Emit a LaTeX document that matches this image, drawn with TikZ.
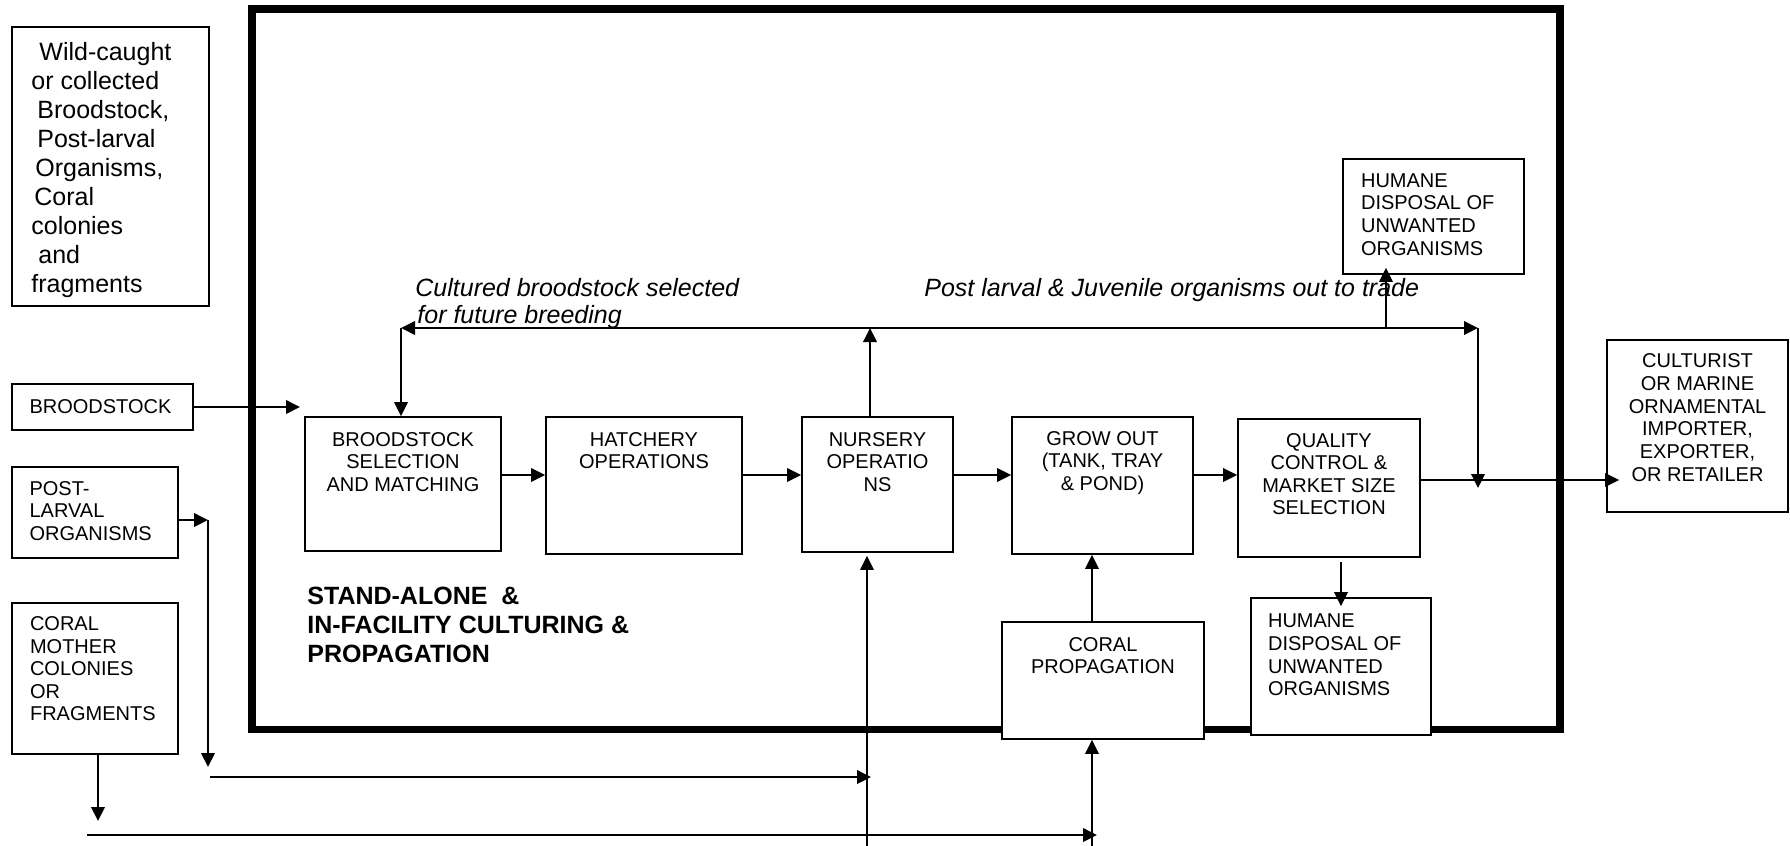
\documentclass[tikz,border=0pt]{standalone}
\usepackage{fontspec}
\setmainfont{Liberation Sans}
\usetikzlibrary{arrows.meta,fit}
\begin{document}
\begin{tikzpicture}[x=0.5pt,y=-0.5pt,
  box/.style={draw, line width=0.85pt, fill=white, inner sep=0pt},
  frame/.style={draw, line width=3.9pt, inner sep=0pt},
  arr/.style={line width=0.8pt, -{Triangle[length=7pt,width=6.8pt]}},
  txt/.style={inner sep=0pt, font=\fontsize{10}{11.3}\selectfont},
  ctxt/.style={txt, align=center, anchor=north},
  ltxt/.style={txt, align=left, anchor=north west},
]
\useasboundingbox (0,0) rectangle (1790,846);

% frame
\node[frame, fit={(252,9)(1560,729.5)}] (frame) {};

% boxes
\node[box, fit={(12,27)(209,306)}] (wild) {};
\node[box, fit={(12,384)(193,430)}] (bs) {};
\node[box, fit={(12,467)(178,558)}] (post) {};
\node[box, fit={(12,603)(178,754)}] (cm) {};
\node[box, fit={(305,417)(501,551)}] (sel) {};
\node[box, fit={(546,417)(742,554)}] (hatch) {};
\node[box, fit={(802,417)(953,552)}] (nurs) {};
\node[box, fit={(1012,417)(1193,554)}] (grow) {};
\node[box, fit={(1238,419)(1420,557)}] (qual) {};
\node[box, fit={(1343,159)(1524,274)}] (hum1) {};
\node[box, fit={(1607,340)(1788,512)}] (cult) {};
\node[box, fit={(1002,622)(1204,739)}] (cprop) {};
\node[box, fit={(1251,598)(1431,735)}] (hum2) {};

% texts
\node[ltxt, font=\fontsize{12.5}{14.48}\selectfont] (wildt) at (31,42)
  {\hspace*{4pt}Wild-caught\\or collected\\\hspace*{3pt}Broodstock,\\\hspace*{3pt}Post-larval\\\hspace*{2pt}Organisms,\\\hspace*{1.5pt}Coral\\colonies\\\hspace*{3.5pt}and\\fragments};
\node[txt, anchor=west] (bst) at ([xshift=9pt]bs.west) {BROODSTOCK};
\node[ltxt] (postt) at ([xshift=9pt,yshift=-7.25pt]post.north west) {POST-\\LARVAL\\ORGANISMS};
\node[ltxt] (cmt) at ([xshift=9.25pt,yshift=-7pt]cm.north west) {CORAL\\MOTHER\\COLONIES\\OR\\FRAGMENTS};
\node[ctxt] (selt) at ([yshift=-7.9pt]sel.north) {BROODSTOCK\\SELECTION\\AND MATCHING};
\node[ctxt] (hatcht) at ([yshift=-7.85pt]hatch.north) {HATCHERY\\OPERATIONS};
\node[ctxt] (nurst) at ([yshift=-7.75pt]nurs.north) {NURSERY\\OPERATIO\\NS};
\node[ctxt] (growt) at ([yshift=-7.4pt]grow.north) {GROW OUT\\(TANK, TRAY\\\& POND)};
\node[ctxt] (qualt) at ([yshift=-7.3pt]qual.north) {QUALITY\\CONTROL \&\\MARKET SIZE\\SELECTION};
\node[ltxt] (hum1t) at ([xshift=9.25pt,yshift=-7.5pt]hum1.north west) {HUMANE\\DISPOSAL OF\\UNWANTED\\ORGANISMS};
\node[ctxt, font=\fontsize{10}{11.4}\selectfont] (cultt) at ([yshift=-7pt]cult.north) {CULTURIST\\OR MARINE\\ORNAMENTAL\\IMPORTER,\\EXPORTER,\\OR RETAILER};
\node[ctxt] (cpropt) at ([yshift=-7.75pt]cprop.north) {CORAL\\PROPAGATION};
\node[ltxt] (hum2t) at ([xshift=8.75pt,yshift=-8.25pt]hum2.north west) {HUMANE\\DISPOSAL OF\\UNWANTED\\ORGANISMS};

\node[ltxt, font=\fontsize{12.5}{13.35}\selectfont\itshape] (lab1) at (415,278)
  {Cultured broodstock selected\\\hspace*{1pt}for future breeding};
\node[txt, anchor=base west, font=\fontsize{12.5}{13.35}\selectfont\itshape] (lab2) at (924,296)
  {Post larval \& Juvenile organisms out to trade};
\node[ltxt, font=\fontsize{12.5}{14.5}\selectfont\bfseries] (stand) at (307,586.5)
  {STAND-ALONE\ \ \&\\IN-FACILITY CULTURING \&\\PROPAGATION};

% coordinates
\coordinate (row) at (0,475);
\coordinate (orow) at (0,480);
\coordinate (jn) at (870,328);
\coordinate (cl) at (401,328);
\coordinate (cr) at (1478,328);
\coordinate (crd) at (1478,488);
\coordinate (hu) at (1386,328);
\coordinate (qd) at (1341,562);
\coordinate (cx) at (1092,846);
\coordinate (nx) at (867,846);
\coordinate (bsin) at (300,407);
\coordinate (pj) at (208,520);
\coordinate (pd) at (208,767);
\coordinate (h1s) at (210,777);
\coordinate (h1e) at (871,777);
\coordinate (cmd) at (98,821);
\coordinate (h2s) at (87,835);
\coordinate (h2e) at (1097,835);
\path (cult.west |- orow) ++(13,0) coordinate (ctip);
\path (hum1.south -| hu) ++(0,-7) coordinate (hut);
\path (hum2.north -| qd) ++(0,9) coordinate (qdt);
\path (nurs.south -| nx) ++(0,3) coordinate (nxt);

% main chain
\draw[arr] (sel.east |- row) -- (hatch.west |- row);
\draw[arr] (hatch.east |- row) -- (nurs.west |- row);
\draw[arr] (nurs.east |- row) -- (grow.west |- row);
\draw[arr] (grow.east |- row) -- (qual.west |- row);
\draw[arr] (qual.east |- orow) -- (ctip);

% top loop
\draw[arr] (nurs.north -| jn) -- (jn);
\draw[arr] (jn) -- (cl);
\draw[arr] (cl) -- (sel.north -| cl);
\draw[arr] (jn) -- (cr);
\draw[arr] (cr) -- (crd);
\draw[arr] (hu) -- (hut);

% disposal and coral
\draw[arr] (qd) -- (qdt);
\draw[arr] (cprop.north -| cx) -- (grow.south -| cx);
\draw[arr] (cx) -- (cprop.south -| cx);
\draw[arr] (nx) -- (nxt);

% left inputs
\draw[arr] (bs.east) -- (bsin);
\draw[arr] (post.east |- pj) -- (pj);
\draw[arr] (pj) -- (pd);
\draw[arr] (h1s) -- (h1e);
\draw[arr] (cm.south -| cmd) -- (cmd);
\draw[arr] (h2s) -- (h2e);
\end{tikzpicture}
\end{document}
